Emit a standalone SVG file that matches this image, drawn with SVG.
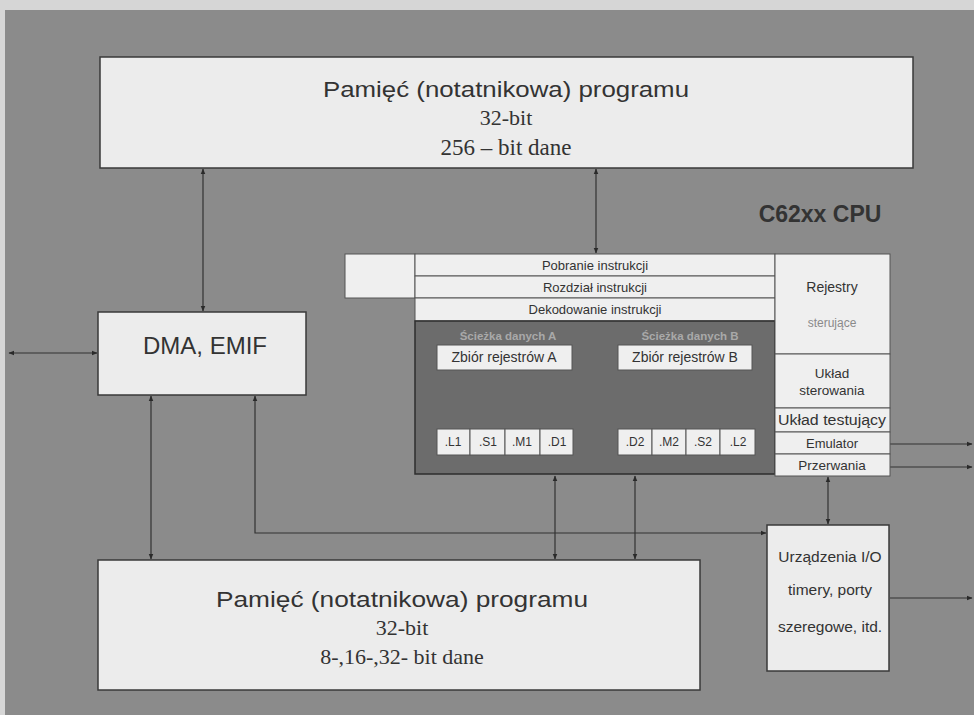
<svg xmlns="http://www.w3.org/2000/svg" width="974" height="715" viewBox="0 0 974 715">
<defs>
<marker id="ah" viewBox="0 0 10 10" refX="9" refY="5" markerWidth="5" markerHeight="5" orient="auto-start-reverse">
<path d="M0,1 L10,5 L0,9 z" fill="#2a2a2a"/>
</marker>
<style>
.bx{fill:#ececec;stroke:#3a3a3a;stroke-width:1.5}
.wb{fill:#efefef;stroke:#555;stroke-width:1}
.s{font-family:"Liberation Sans",Arial,sans-serif;fill:#333;text-anchor:middle}
.r{font-family:"Liberation Serif","Times New Roman",serif;fill:#333;text-anchor:middle}
.c{fill:none;stroke:#333;stroke-width:1.2;marker-start:url(#ah);marker-end:url(#ah)}
.c1{fill:none;stroke:#333;stroke-width:1.2;marker-end:url(#ah)}
</style>
</defs>
<rect x="0" y="0" width="974" height="715" fill="#d6d6d6"/>
<rect x="5" y="10" width="969" height="705" fill="#8b8b8b"/>

<g id="connectors">
<line class="c" x1="203" y1="169" x2="203" y2="311"/>
<line class="c" x1="596" y1="169" x2="596" y2="253"/>
<line class="c" x1="9" y1="353" x2="97" y2="353"/>
<line class="c" x1="151" y1="396" x2="151" y2="559"/>
<path class="c" d="M255,396 L255,533 L766,533"/>
<line class="c" x1="555" y1="476" x2="555" y2="559"/>
<line class="c" x1="635" y1="476" x2="635" y2="559"/>
<line class="c" x1="828" y1="477" x2="828" y2="524"/>
<line class="c1" x1="890" y1="444" x2="972" y2="444"/>
<line class="c1" x1="890" y1="467" x2="972" y2="467"/>
<line class="c1" x1="890" y1="598" x2="972" y2="598"/>
<line class="c" x1="453" y1="371" x2="453" y2="428"/>
<line class="c" x1="488" y1="371" x2="488" y2="428"/>
<line class="c" x1="522" y1="371" x2="522" y2="428"/>
<line class="c" x1="557" y1="371" x2="557" y2="428"/>
<line class="c" x1="634" y1="371" x2="634" y2="428"/>
<line class="c" x1="668" y1="371" x2="668" y2="428"/>
<line class="c" x1="703" y1="371" x2="703" y2="428"/>
<line class="c" x1="738" y1="371" x2="738" y2="428"/>
<line class="c" x1="577" y1="392" x2="612" y2="392"/>
</g>

<g id="mem-top">
<rect class="bx" x="100" y="57" width="813" height="111"/>
<text class="s" x="506" y="97" font-size="22" textLength="366" lengthAdjust="spacingAndGlyphs">Pamięć (notatnikowa) programu</text>
<text class="r" x="506" y="125" font-size="22">32-bit</text>
<text class="r" x="506" y="155" font-size="23">256 – bit dane</text>
</g>

<g id="cpu-label">
<text class="s" x="820" y="222" font-size="23" font-weight="bold" fill="#2e2e2e">C62xx CPU</text>
</g>

<g id="dma">
<rect class="bx" x="98" y="312" width="208" height="83"/>
<text class="s" x="205" y="354" font-size="24">DMA, EMIF</text>
</g>

<g id="cpu">
<rect class="wb" x="345" y="254" width="70" height="44"/>
<rect class="wb" x="415" y="254" width="360" height="22"/>
<text class="s" x="595" y="270" font-size="13">Pobranie instrukcji</text>
<rect class="wb" x="415" y="276" width="360" height="22"/>
<text class="s" x="595" y="292" font-size="13">Rozdział instrukcji</text>
<rect class="wb" x="415" y="298" width="360" height="23"/>
<text class="s" x="595" y="314" font-size="13">Dekodowanie instrukcji</text>
<rect x="415" y="321" width="360" height="153" fill="#6c6c6c" stroke="#2e2e2e" stroke-width="1.5"/>
<text class="s" x="508" y="340" font-size="11.5" font-weight="bold" fill="#a9a9a9" style="fill:#a9a9a9">Ścieżka danych A</text>
<text class="s" x="690" y="340" font-size="11.5" font-weight="bold" style="fill:#a9a9a9">Ścieżka danych B</text>
<rect class="wb" x="437" y="345" width="135" height="25"/>
<text class="s" x="504" y="362" font-size="14">Zbiór rejestrów A</text>
<rect class="wb" x="618" y="345" width="134" height="25"/>
<text class="s" x="685" y="362" font-size="14">Zbiór rejestrów B</text>
<rect class="wb" x="437" y="429" width="33" height="26"/><text class="s" x="453" y="446" font-size="12">.L1</text>
<rect class="wb" x="470" y="429" width="35" height="26"/><text class="s" x="488" y="446" font-size="12">.S1</text>
<rect class="wb" x="505" y="429" width="35" height="26"/><text class="s" x="522" y="446" font-size="12">.M1</text>
<rect class="wb" x="540" y="429" width="33" height="26"/><text class="s" x="557" y="446" font-size="12">.D1</text>
<rect class="wb" x="618" y="429" width="34" height="26"/><text class="s" x="635" y="446" font-size="12">.D2</text>
<rect class="wb" x="652" y="429" width="34" height="26"/><text class="s" x="669" y="446" font-size="12">.M2</text>
<rect class="wb" x="686" y="429" width="34" height="26"/><text class="s" x="703" y="446" font-size="12">.S2</text>
<rect class="wb" x="720" y="429" width="35" height="26"/><text class="s" x="738" y="446" font-size="12">.L2</text>
<rect class="wb" x="775" y="254" width="115" height="100"/>
<text class="s" x="832" y="292" font-size="14">Rejestry</text>
<text class="s" x="832" y="327" font-size="12" style="fill:#8a8a8a">sterujące</text>
<rect class="wb" x="775" y="354" width="115" height="54"/>
<text class="s" x="832" y="378" font-size="13.5">Układ</text>
<text class="s" x="832" y="395" font-size="13.5">sterowania</text>
<rect class="wb" x="775" y="408" width="115" height="24"/>
<text class="s" x="832" y="425" font-size="14" textLength="108" lengthAdjust="spacingAndGlyphs">Układ testujący</text>
<rect class="wb" x="775" y="432" width="115" height="22"/>
<text class="s" x="832" y="448" font-size="13">Emulator</text>
<rect class="wb" x="775" y="454" width="115" height="22"/>
<text class="s" x="832" y="470" font-size="13.5">Przerwania</text>
</g>

<g id="io">
<rect class="bx" x="767" y="525" width="122" height="146"/>
<text class="s" x="830" y="562" font-size="15.5">Urządzenia I/O</text>
<text class="s" x="830" y="595" font-size="15.5">timery, porty</text>
<text class="s" x="830" y="632" font-size="15.5">szeregowe, itd.</text>
</g>

<g id="mem-bottom">
<rect class="bx" x="98" y="560" width="602" height="130"/>
<text class="s" x="402" y="607" font-size="22" textLength="372" lengthAdjust="spacingAndGlyphs">Pamięć (notatnikowa) programu</text>
<text class="r" x="402" y="635" font-size="22">32-bit</text>
<text class="r" x="402" y="664" font-size="22">8-,16-,32- bit dane</text>
</g>
</svg>
